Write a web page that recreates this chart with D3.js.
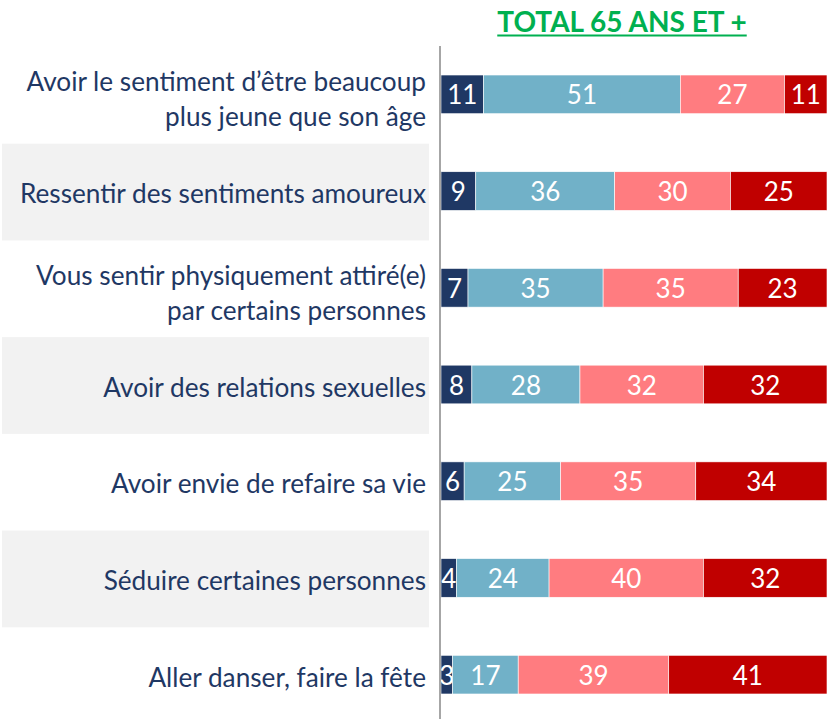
<!DOCTYPE html>
<html>
<head>
<meta charset="utf-8">
<title>Total 65 ans et +</title>
<script src="https://d3js.org/d3.v7.min.js"></script>
<style>
  body { margin: 0; background: #fff; }
  svg { display: block; font-family: Lato, "Open Sans", sans-serif; }
</style>
</head>
<body>
<svg id="chart" width="827" height="719"></svg>
<script>
// données
var categories = [
  ["Avoir le sentiment d\u2019\u00eatre beaucoup", "plus jeune que son \u00e2ge"],
  ["Ressentir des sentiments amoureux"],
  ["Vous sentir physiquement attir\u00e9(e)", "par certains personnes"],
  ["Avoir des relations sexuelles"],
  ["Avoir envie de refaire sa vie"],
  ["S\u00e9duire certaines personnes"],
  ["Aller danser, faire la f\u00eate"]
];
var serie1 = [11, 9, 7, 8, 6, 4, 3];
var serie2 = [51, 36, 35, 28, 25, 24, 17];
var serie3 = [27, 30, 35, 32, 35, 40, 39];
var serie4 = [11, 25, 23, 32, 34, 32, 41];
var couleurs = ["#1f3864", "#71b1c8", "#ff7c80", "#c00000"];
var titre = "TOTAL 65 ANS ET +";

var svg = d3.select("#chart");
var keys = categories.map(function(c, i){ return i; });

var x = d3.scaleLinear().domain([0, 100]).range([441, 827]);
var y = d3.scaleBand().domain(keys).range([46, 723]).paddingInner(0.6).paddingOuter(0.3);
var step = y.step();

// bandes grises une ligne sur deux
svg.append("g").selectAll("rect")
  .data(keys.filter(function(i){ return i % 2 == 1; }))
  .join("rect")
  .attr("x", 2)
  .attr("width", 427)
  .attr("y", function(i){ return y(i) + y.bandwidth()/2 - step/2 + 1; })
  .attr("height", step)
  .attr("fill", "#f2f2f2");

// libellés
var lab = svg.append("g").attr("fill", "#1f3864").attr("font-size", 26.2).attr("text-anchor", "end");
categories.forEach(function(c, i){
  var cy = y(i) + y.bandwidth()/2;
  if (c.length == 1) {
    lab.append("text").attr("x", 426).attr("y", cy + 12).text(c[0]);
  } else {
    lab.append("text").attr("x", 426).attr("y", cy - 3).text(c[0]);
    lab.append("text").attr("x", 426).attr("y", cy + 32).text(c[1]);
  }
});

// barres empilées
var table = keys.map(function(i){
  return {i: i, a: serie1[i], b: serie2[i], c: serie3[i], d: serie4[i]};
});
var stack = d3.stack().keys(["a", "b", "c", "d"])(table);

svg.append("defs").append("clipPath").attr("id", "zone")
  .append("rect").attr("x", 441).attr("y", 0).attr("width", 400).attr("height", 719);

var g = svg.append("g").attr("clip-path", "url(#zone)");
var groupes = g.selectAll("g.serie").data(stack).join("g")
  .attr("class", "serie")
  .attr("fill", function(d, k){ return couleurs[k]; });

groupes.selectAll("rect").data(function(d){ return d; }).join("rect")
  .attr("x", function(d){ return x(d[0]); })
  .attr("width", function(d){ return x(d[1]) - x(d[0]); })
  .attr("y", function(d){ return y(d.data.i); })
  .attr("height", y.bandwidth())
  .attr("stroke", "#fff")
  .attr("stroke-width", 0.6);

groupes.selectAll("text").data(function(d){ return d; }).join("text")
  .attr("x", function(d){ return (x(d[0]) + x(d[1]))/2; })
  .attr("y", function(d){ return y(d.data.i) + y.bandwidth()/2 + 10; })
  .attr("text-anchor", "middle")
  .attr("font-size", 26)
  .attr("fill", "#fff")
  .text(function(d){ return d[1] - d[0]; });

// axe vertical
svg.append("line")
  .attr("x1", 440).attr("x2", 440)
  .attr("y1", 46).attr("y2", 719)
  .attr("stroke", "#a6a6a6").attr("stroke-width", 2);

// titre
var t = svg.append("text")
  .attr("x", 622).attr("y", 32)
  .attr("text-anchor", "middle")
  .attr("font-size", 28)
  .attr("font-weight", "bold")
  .attr("fill", "#00b050")
  .text(titre);
var w = t.node().getComputedTextLength();
svg.append("line")
  .attr("x1", 622 - w/2).attr("x2", 622 + w/2)
  .attr("y1", 35.5).attr("y2", 35.5)
  .attr("stroke", "#00b050").attr("stroke-width", 2);
</script>
</body>
</html>
